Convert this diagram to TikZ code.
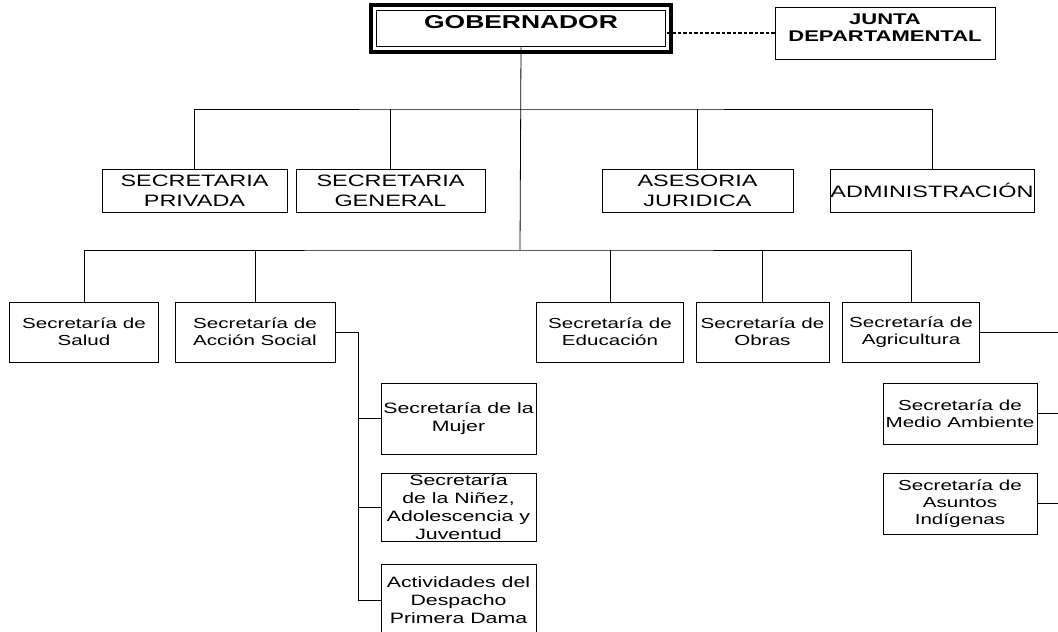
\documentclass[tikz,border=0pt]{standalone}
\usepackage{fontspec}
\setmainfont{Liberation Sans}[FakeStretch=1.42]
\usetikzlibrary{positioning}

\tikzset{
  box/.style={draw, line width=1pt, align=center, inner sep=0pt,
    font=\fontsize{14.5}{16.8}\selectfont},
  capbox/.style={box, minimum height=43pt, font=\fontsize{16.5}{20}\selectfont},
  lowbox/.style={box, minimum height=60pt},
  subbox/.style={box, minimum width=155pt, font=\fontsize{15}{18}\selectfont},
  govbox/.style={draw, line width=1.5pt,
    inner xsep=0pt, inner ysep=4.45pt, text height=13.3pt, text depth=13.9pt,
    font=\bfseries\fontsize{18.6}{22}\selectfont},
  link/.style={line width=0.8pt}
}

\begin{document}
\begin{tikzpicture}[x=1pt, y=-1pt]
  \clip (0,0) rectangle (1058,632);
  % Top level
  \node[govbox, minimum width=289.1pt, minimum height=36.1pt] (gob) at (521,28.5) {GOBERNADOR};
  \draw[line width=4pt] ([xshift=-4.45pt,yshift=4.45pt]gob.north west) rectangle ([xshift=4.45pt,yshift=-4.45pt]gob.south east);
  \node[box, minimum width=220pt, minimum height=52pt, text depth=11pt,
    font=\bfseries\fontsize{15.5}{17.5}\selectfont] (junta) at (885,33) {JUNTA\\DEPARTAMENTAL};
  \draw[line width=1.3pt, dash pattern=on 3.5pt off 2pt] (junta.west) -- (junta.west -| gob.east);

  % First row of offices
  \node[capbox, minimum width=185pt] (priv) at (194.5,190.5) {SECRETARIA\\PRIVADA};
  \node[capbox, minimum width=189pt] (gen) at (390.5,190.5) {SECRETARIA\\GENERAL};
  \node[capbox, minimum width=191pt] (ases) at (697.5,190.5) {ASESORIA\\JURIDICA};
  \node[capbox, minimum width=204pt] (admin) at (932,190.5) {ADMINISTRACIÓN};

  % Second row of secretaries
  \node[lowbox, minimum width=148.5pt] (salud) at (84,332) {Secretaría de\\Salud};
  \node[lowbox, minimum width=160pt] (accion) at (255,332) {Secretaría de\\Acción Social};
  \node[lowbox, minimum width=147.5pt] (edu) at (610,332) {Secretaría de\\Educación};
  \node[lowbox, minimum width=133pt] (obras) at (762.5,332) {Secretaría de\\Obras};
  \node[lowbox, minimum width=137pt] (agri) at (911,332) {Secretaría de\\Agricultura};

  % Under Accion Social
  \node[subbox, minimum height=71pt] (mujer) at (458.5,418.5) {Secretaría de la\\Mujer};
  \node[subbox, minimum height=68pt, below=18pt of mujer] (ninez) {Secretaría\\de la Niñez,\\Adolescencia y\\Juventud};
  \node[subbox, minimum height=72pt, below=22pt of ninez] (activ) {Actividades del\\Despacho\\Primera Dama};

  % Under Agricultura
  \node[box, minimum width=154pt, minimum height=61pt] (medio) at (960,413.5) {Secretaría de\\Medio Ambiente};
  \node[box, minimum width=154pt, minimum height=61pt, below=28pt of medio] (indig) {Secretaría de\\Asuntos\\Indígenas};

  % Buses
  \coordinate (busA) at (520,109);
  \coordinate (busB) at (520,250);
  \coordinate (subx) at (358,0);
  \coordinate (edge) at (1058,0);
  \draw[link] (gob.south) -- (busB);
  \draw[link] (priv.north) |- (busA) -| (admin.north);
  \foreach \n in {gen, ases}
    \draw[link] (\n.north) -- (\n.north |- busA);
  \draw[link] (salud.north) |- (busB) -| (agri.north);
  \foreach \n in {accion, edu, obras}
    \draw[link] (\n.north) -- (\n.north |- busB);

  % Branches to the side
  \draw[link] (accion.east) -| (activ.west -| subx) -- (activ.west);
  \foreach \n in {mujer, ninez}
    \draw[link] (\n.west -| subx) -- (\n.west);
  \foreach \n in {agri, medio, indig}
    \draw[link] (\n.east) -- (\n.east -| edge);
\end{tikzpicture}
\end{document}
